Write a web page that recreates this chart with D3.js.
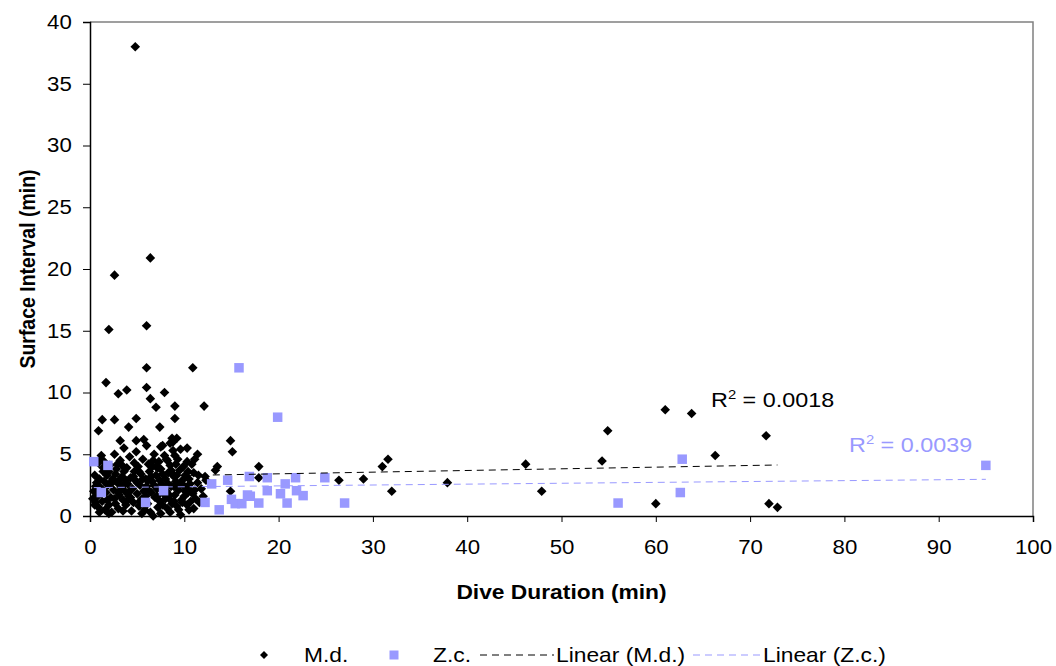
<!DOCTYPE html>
<html>
<head>
<meta charset="utf-8">
<script src="https://cdn.jsdelivr.net/npm/d3@7"></script>
<style>
  body { margin: 0; background: #fff; }
  text { font-family: Arial, "Liberation Sans", sans-serif; }
</style>
</head>
<body>
<svg id="chart" width="1056" height="666"></svg>
<script>
// Dive duration vs. surface interval (minutes) for two species
const mdDuration = [
  4.8, 6.4, 2.6, 2.0, 6.0, 6.0, 10.9, 1.7, 6.0, 3.0, 3.9, 7.9, 6.4, 7.0, 9.0, 12.1,
  1.3, 2.6, 4.9, 9.0, 0.9, 4.1, 7.4, 3.2, 4.9, 5.7, 8.7, 9.2, 8.8, 7.7, 14.9, 15.1,
  11.4, 10.3, 13.5, 13.3, 12.2, 17.9, 17.9, 14.9, 9.6,
  26.4, 29.0, 31.0, 31.6, 32.0, 37.9, 46.2, 47.9, 54.9, 54.3, 60.0, 61.0, 63.8, 66.3, 71.7, 72.0, 72.9,
  0.3, 0.5, 0.6, 0.4, 0.8, 0.9, 1.0, 1.1, 1.2, 0.9, 1.3, 1.4, 1.5, 1.6, 1.7, 1.8, 1.9, 2.0,
  2.1, 2.2, 2.3, 2.4, 2.5, 2.6, 2.7, 2.8, 2.9, 3.0, 3.1, 3.2, 3.3, 3.4, 3.5, 3.6, 3.7, 3.8,
  3.9, 4.0, 4.1, 4.2, 4.3, 4.4, 4.5, 4.6, 4.7, 4.8, 4.9, 5.0, 5.1, 5.2, 5.3, 5.4, 5.5, 5.6,
  5.7, 5.8, 5.9, 6.0, 6.1, 6.2, 6.3, 6.4, 6.5, 6.6, 6.7, 6.8, 6.9, 7.0, 7.1, 7.2, 7.3, 7.4,
  7.5, 7.6, 7.7, 7.8, 7.9, 8.0, 8.1, 8.2, 8.3, 8.4, 8.5, 8.6, 8.7, 8.8, 8.9, 9.0, 9.1, 9.2,
  9.3, 9.4, 9.5, 9.7, 9.8, 9.9, 10.0, 10.1, 10.2, 10.3, 10.4, 10.5, 10.6, 10.7, 10.8, 10.9,
  11.0, 11.1, 11.2, 11.4, 11.6, 11.8, 12.0, 12.3,
  0.5, 0.7, 1.2, 1.5, 2.0, 2.3, 2.6, 2.9, 3.2, 3.5, 3.9, 4.2, 4.6, 5.0, 5.3, 5.6, 5.9, 6.2,
  6.5, 6.8, 7.1, 7.4, 7.7, 8.0, 8.3, 8.6, 8.9, 9.2, 9.5, 9.8, 10.1, 10.4, 7.0, 8.2, 9.0,
  6.0, 7.5, 8.5, 9.6, 1.0, 2.0, 3.5, 5.5, 7.5, 8.5, 10.5, 11.0,
  0.6, 1.4, 1.8, 2.2, 2.7, 3.0, 3.4, 3.8, 4.3, 4.7, 5.2, 5.7, 6.3, 6.7, 7.2, 7.8, 8.1, 8.4,
  8.8, 9.1, 9.4, 9.9, 10.3, 10.7, 11.1, 11.5, 1.1, 3.6, 6.6, 8.9
];
const mdInterval = [
  38.0, 20.9, 19.5, 15.1, 15.4, 12.0, 12.0, 10.8, 10.4, 9.9, 10.2, 10.0, 9.5, 8.8, 8.9, 8.9,
  7.8, 7.8, 7.9, 7.9, 6.9, 7.2, 7.2, 6.1, 6.1, 6.2, 6.3, 6.3, 6.0, 5.7, 6.1, 5.2,
  5.0, 5.5, 4.0, 3.7, 3.2, 4.0, 3.1, 2.0, 0.1,
  2.9, 3.0, 4.0, 4.6, 2.0, 2.7, 4.2, 2.0, 6.9, 4.45, 1.0, 8.6, 8.3, 4.9, 6.5, 1.0, 0.7,
  1.4, 0.9, 1.1, 2.0, 1.6, 0.7, 3.0, 2.3, 4.9, 4.3, 1.2, 3.6, 2.8, 0.5, 1.9, 3.3, 2.5, 0.9,
  4.1, 1.5, 0.3, 3.0, 2.1, 5.0, 1.0, 3.8, 2.7, 0.6, 1.7, 4.5, 2.3, 3.2, 1.3, 5.5, 2.0, 0.9,
  3.9, 2.6, 1.6, 4.8, 3.1, 0.4, 2.2, 1.1, 3.6, 2.9, 5.2, 1.8, 4.0, 0.8, 2.5, 3.4, 1.4, 4.6,
  2.0, 0.5, 3.0, 2.4, 1.0, 4.2, 3.6, 0.3, 1.9, 2.8, 0.0, 5.0, 1.5, 3.3, 2.2, 0.7, 4.4, 1.2,
  3.8, 2.6, 0.9, 1.8, 4.9, 3.0, 2.0, 0.6, 3.5, 1.4, 4.1, 2.4, 1.0, 5.3, 3.2, 1.7, 2.8, 0.8,
  4.6, 2.1, 3.7, 1.3, 2.9, 4.0, 1.6, 3.3, 2.3, 0.9, 1.9, 3.0, 2.6, 1.2, 4.2, 1.8,
  3.5, 2.1, 1.4, 2.7, 1.1, 2.2, 1.6, 2.9,
  3.3, 2.7, 1.8, 4.4, 3.6, 2.8, 1.4, 4.2, 3.0, 2.5, 1.2, 2.0, 3.2, 2.7, 1.2, 3.0, 1.6, 2.9,
  3.2, 2.5, 1.6, 2.9, 3.4, 1.4, 2.6, 3.7, 2.4, 3.3, 2.5, 1.1, 2.0, 3.6, 4.0, 4.5, 4.9,
  5.7, 5.6, 5.9, 5.4, 0.3, 0.2, 0.4, 0.2, 0.2, 0.3, 0.5, 0.6,
  2.4, 3.9, 1.3, 2.6, 3.4, 1.9, 4.1, 2.9, 1.5, 4.3, 3.6, 1.0, 2.0, 4.5, 3.9, 2.3, 4.6, 1.7,
  3.4, 4.2, 0.5, 2.5, 4.4, 2.0, 4.6, 3.3, 4.6, 3.6, 4.0, 1.2
];
const zcDuration = [
  0.4, 1.9, 1.2, 5.9, 7.8, 12.9, 12.2, 13.7, 14.6, 15.0, 15.4, 16.1, 16.7, 15.8, 16.9, 17.0,
  17.9, 18.8, 18.8, 19.9, 20.2, 20.7, 20.9, 21.8, 21.9, 22.6, 24.9, 27.0, 56.0, 62.6, 62.8, 95.0
];
const zcInterval = [
  4.4, 4.1, 1.9, 1.1, 2.05, 2.6, 1.1, 0.5, 2.9, 1.35, 1.0, 1.0, 1.7, 12.0, 3.2, 1.6,
  1.05, 3.1, 2.05, 8.0, 1.8, 2.6, 1.05, 3.1, 2.05, 1.65, 3.1, 1.05, 1.05, 1.9, 4.6, 4.1
];

// Linear trend lines (end points over each series' duration range)
const mdTrendX = [0.3, 72.9];
const mdTrendY = [3.15, 4.13];
const zcTrendX = [0.4, 95.0];
const zcTrendY = [2.30, 2.97];

const rSquared = ["0.0018", "0.0039"];
const xTicks = [0, 10, 20, 30, 40, 50, 60, 70, 80, 90, 100];
const yTicks = [0, 5, 10, 15, 20, 25, 30, 35, 40];
const legendLabels = ["M.d.", "Z.c.", "Linear (M.d.)", "Linear (Z.c.)"];

const BLUE = "#9999ff";
const STRETCH = 1.14;   // text is set slightly wide
const svg = d3.select("#chart");
const plot = { left: 90, right: 1033, top: 22, bottom: 516 };

const x = d3.scaleLinear().domain([0, 100]).range([plot.left, plot.right]);
const y = d3.scaleLinear().domain([0, 40]).range([plot.bottom, plot.top]);

function label(parent, px, py, str, size, opts = {}) {
  const t = parent.append("text")
    .attr("transform", `translate(${px},${py}) scale(${STRETCH},1)`)
    .attr("font-size", size)
    .attr("fill", opts.fill || "#000")
    .attr("text-anchor", opts.anchor || "start")
    .attr("font-weight", opts.weight || "normal");
  if (str !== null) t.text(str);
  return t;
}

// Plot-area frame (top and right edges)
svg.append("path")
  .attr("d", `M${plot.left},${plot.top}H${plot.right}V${plot.bottom}`)
  .attr("fill", "none").attr("stroke", "#808080").attr("stroke-width", 1.5);

// Axes
const xAxis = svg.append("g")
  .attr("transform", `translate(0,${plot.bottom})`)
  .call(d3.axisBottom(x).tickValues(xTicks).tickSize(6).tickPadding(18).tickFormat(d3.format("d")));
const yAxis = svg.append("g")
  .attr("transform", `translate(${plot.left},0)`)
  .call(d3.axisLeft(y).tickValues(yTicks).tickSize(7).tickPadding(9).tickFormat(d3.format("d")));
[xAxis, yAxis].forEach(g => {
  g.select(".domain").attr("stroke", "#000").attr("stroke-width", 1.5);
  g.selectAll(".tick line").attr("stroke", "#000");
  g.selectAll(".tick text").attr("font-size", 19.5).attr("fill", "#000")
    .attr("font-family", "Arial, 'Liberation Sans', sans-serif")
    .attr("transform", `scale(${STRETCH},1)`);
});

// Axis titles
label(svg, (plot.left + plot.right) / 2, 599, "Dive Duration (min)", 20, { anchor: "middle", weight: "bold" });
svg.append("text")
  .attr("transform", `translate(35,${(plot.top + plot.bottom) / 2}) rotate(-90) scale(1,${STRETCH})`)
  .attr("text-anchor", "middle").attr("font-size", 19.5).attr("font-weight", "bold")
  .text("Surface Interval (min)");

const diamond = r => `M0,${-r}L${r},0L0,${r}L${-r},0Z`;
const square = s => `M${-s / 2},${-s / 2}h${s}v${s}h${-s}Z`;

// M.d. markers
svg.append("g").selectAll("path")
  .data(d3.range(mdDuration.length))
  .join("path")
  .attr("d", diamond(4.8))
  .attr("transform", i => `translate(${x(mdDuration[i])},${y(mdInterval[i])})`)
  .attr("fill", "#000");

// Z.c. markers
svg.append("g").selectAll("path")
  .data(d3.range(zcDuration.length))
  .join("path")
  .attr("d", square(9.5))
  .attr("transform", i => `translate(${x(zcDuration[i])},${y(zcInterval[i])})`)
  .attr("fill", BLUE);

// Trend lines
const line = d3.line().x(d => x(d[0])).y(d => y(d[1]));
svg.append("path")
  .datum(d3.zip(mdTrendX, mdTrendY))
  .attr("d", line).attr("fill", "none")
  .attr("stroke", "#000").attr("stroke-width", 1).attr("stroke-dasharray", "7,5");
svg.append("path")
  .datum(d3.zip(zcTrendX, zcTrendY))
  .attr("d", line).attr("fill", "none")
  .attr("stroke", BLUE).attr("stroke-width", 1).attr("stroke-dasharray", "7,5");

// R² labels
function rLabel(px, py, value, color) {
  const t = label(svg, px, py, null, 20.5, { fill: color });
  t.append("tspan").text("R");
  t.append("tspan").attr("dy", -8).attr("font-size", 13).text("2");
  t.append("tspan").attr("dy", 8).text(" = " + value);
}
rLabel(711, 407, rSquared[0], "#000");
rLabel(849, 452, rSquared[1], BLUE);

// Legend
const lg = svg.append("g");
const ly = 655;
lg.append("path").attr("d", diamond(4)).attr("transform", `translate(264,${ly})`).attr("fill", "#000");
label(lg, 304, ly + 7, legendLabels[0], 20);
lg.append("path").attr("d", square(9)).attr("transform", `translate(394,${ly})`).attr("fill", BLUE);
label(lg, 433, ly + 7, legendLabels[1], 20);
lg.append("line").attr("x1", 480).attr("x2", 554).attr("y1", ly).attr("y2", ly)
  .attr("stroke", "#000").attr("stroke-dasharray", "7,5");
label(lg, 556, ly + 7, legendLabels[2], 20);
lg.append("line").attr("x1", 693).attr("x2", 760).attr("y1", ly).attr("y2", ly)
  .attr("stroke", BLUE).attr("stroke-dasharray", "7,5");
label(lg, 763, ly + 7, legendLabels[3], 20);
</script>
</body>
</html>
